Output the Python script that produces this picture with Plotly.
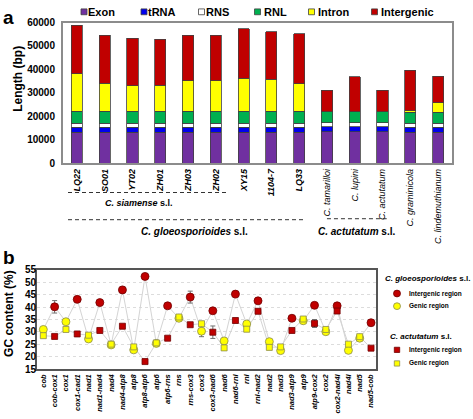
import plotly.graph_objects as go

W, H = 473, 419
FONT = "Liberation Sans, Arial, sans-serif"

# ---------------- Panel a data ----------------
strains = ["LQ22", "SO01", "YT02", "ZH01", "ZH03", "ZH02", "XY15", "1104-7", "LQ33",
           "C. tamarilloi", "C. lupini", "C. actutatum", "C. graminicola", "C. lindemuthianum"]
exon = [13300, 13300, 13300, 13300, 13300, 13300, 13300, 13300, 13300, 13400, 13400, 13400, 13300, 13300]
trna = [2100, 2100, 2100, 2100, 2100, 2100, 2100, 2100, 2100, 2100, 2100, 2100, 2100, 2100]
rns = [1700, 1700, 1700, 1700, 1700, 1700, 1700, 1700, 1700, 1700, 1700, 1700, 1700, 1700]
rnl = [5000, 5000, 5000, 5000, 5000, 5000, 5000, 5000, 5000, 4700, 4700, 4700, 4700, 4700]
intron = [16100, 12100, 10900, 11200, 13000, 13000, 14150, 13700, 11800, 0, 0, 0, 600, 4000]
intergenic = [20550, 20400, 20300, 19500, 19500, 19500, 21150, 20300, 21400, 9160, 14900, 9160, 17300, 11400]
bar_names = ["Exon", "tRNA", "RNS", "RNL", "Intron", "Intergenic"]
bar_colors = ["#7030A0", "#0000EE", "#FFFFFF", "#00B050", "#FFFF00", "#C00000"]
y_ticks_a = [0, 10000, 20000, 30000, 40000, 50000, 60000]

# ---------------- Panel b data ----------------
regions = ["cob", "cob-cox1", "cox1", "cox1-cad1", "nad1", "nad1-nad4", "nad4", "nad4-atp8",
           "atp8", "atp8-atp6", "atp6", "atp6-rns", "rns", "rns-cox3", "cox3", "cox3-nad6",
           "nad6", "nad6-rnl", "rnl", "rnl-nad2", "nad2", "nad3", "nad3-atp9", "atp9",
           "atp9-cox2", "cox2", "cox2-nad4l", "nad4l", "nad5", "nad5-cob"]
region_type = ["genic", "inter", "genic", "inter", "genic", "inter", "genic", "inter",
               "genic", "inter", "genic", "inter", "genic", "inter", "genic", "inter",
               "genic", "inter", "genic", "inter", "genic", "genic", "inter", "genic",
               "inter", "genic", "inter", "genic", "genic", "inter"]
gc_gloeo = [31.0, 40.1, 34.1, 43.1, 27.2, 41.8, 24.8, 46.9, 22.8, 52.3, 25.4, 40.5, 35.5, 44.0, 30.3,
            38.5, 26.4, 45.2, 33.2, 42.5, 26.1, 22.5, 35.5, 34.5, 40.7, 30.1, 40.5, 22.6, 27.5, 33.7]
gc_gloeo_err = [0, 2.5, 0, 0, 0, 0, 0, 1.2, 0, 0, 0, 0, 0, 2.4, 2.2,
                0, 0, 0, 0, 0, 0.6, 0, 0.8, 0, 0, 0, 0, 0, 0, 0]
gc_acut = [28.5, 28.2, 31.0, 29.2, 28.7, 30.6, 25.1, 32.3, 24.0, 18.1, 25.6, 27.5, 36.0, 32.9, 33.3,
           29.9, 23.6, 34.6, 31.1, 38.3, 23.8, 24.0, 30.6, 35.2, 33.4, 31.0, 38.4, 25.1, 28.1, 23.5]
gc_acut_err = [0, 0, 0, 0, 0, 0, 0, 0, 0, 0, 0, 0, 0, 0, 0,
               2.5, 0, 0, 0, 0, 0, 0, 0, 0, 1.6, 0, 0, 0, 0, 0]
y_ticks_b = [15, 20, 25, 30, 35, 40, 45, 50, 55]


def px(x):
    return x / W


def py(y):
    return 1 - y / H


fig = go.Figure()

# ---- panel a stacked bars
for name, vals, col in zip(bar_names, [exon, trna, rns, rnl, intron, intergenic], bar_colors):
    fig.add_trace(go.Bar(x=strains, y=vals, name=name, marker=dict(color=col, line=dict(color="#404040", width=0.8)),
                         xaxis="x", yaxis="y", showlegend=False))

# ---- panel b lines
for vals in [gc_gloeo, gc_acut]:
    fig.add_trace(go.Scatter(x=regions, y=vals, mode="lines", line=dict(color="#d4d4d4", width=1),
                             xaxis="x2", yaxis="y2", showlegend=False, hoverinfo="skip"))


def subset(vals, errs, kind):
    xs, ys, es = [], [], []
    for r, t, v, e in zip(regions, region_type, vals, errs):
        if t == kind:
            xs.append(r); ys.append(v); es.append(e)
    return xs, ys, es


series = [
    (gc_gloeo, gc_gloeo_err, "inter", "circle", 8, "#C00000", "#700000"),
    (gc_gloeo, gc_gloeo_err, "genic", "circle", 8, "#FFFF00", "#8a8a50"),
    (gc_acut, gc_acut_err, "inter", "square", 6, "#C00000", "#700000"),
    (gc_acut, gc_acut_err, "genic", "square", 6, "#FFFF00", "#8a8a50"),
]
for vals, errs, kind, sym, size, col, lc in series:
    xs, ys, es = subset(vals, errs, kind)
    fig.add_trace(go.Scatter(x=xs, y=ys, mode="markers",
                             marker=dict(symbol=sym, size=size, color=col, line=dict(color=lc, width=0.8)),
                             error_y=dict(type="data", array=es, visible=True, color="#707070", thickness=1, width=2.5),
                             xaxis="x2", yaxis="y2", showlegend=False))

ticktext_a = []
for s in strains:
    if s.startswith("C. "):
        ticktext_a.append("<span style='font-weight:normal'>%s</span>" % s)
    else:
        ticktext_a.append(s)

fig.update_layout(
    width=W, height=H, margin=dict(l=0, r=0, t=0, b=0),
    paper_bgcolor="white", plot_bgcolor="white",
    font=dict(family=FONT, color="black"),
    barmode="stack", bargap=0.6,
    xaxis=dict(domain=[px(63), px(452)], type="category", tickvals=strains, ticktext=ticktext_a,
               tickangle=-90, tickfont=dict(size=9, weight="bold", style="italic"), showline=True, mirror=True,
               linecolor="#8c8c8c", linewidth=2, ticks="", anchor="y", range=[-0.5, 13.5]),
    yaxis=dict(domain=[py(162), py(17)], range=[0, 60000], tickvals=y_ticks_a, tickformat="d",
               tickfont=dict(size=10, weight="bold"), showline=True, mirror=True, linecolor="#8c8c8c",
               linewidth=2, showgrid=False, zeroline=False, ticks="", anchor="x", ticklabelstandoff=4),
    xaxis2=dict(domain=[px(37), px(376)], type="category", tickangle=-90,
                tickfont=dict(size=7.5, weight="bold", style="italic"), showline=True, mirror=True,
                linecolor="#555555", linewidth=2, ticks="", anchor="y2", range=[-0.56, 29.44]),
    yaxis2=dict(domain=[py(374), py(271.5)], range=[15, 55], tickvals=y_ticks_b,
                tickfont=dict(size=10, weight="bold"), showline=True, mirror=True, linecolor="#555555",
                linewidth=2, showgrid=True, gridcolor="#dcdcdc", griddash="dot", gridwidth=1,
                zeroline=False, ticks="", anchor="x2", ticklabelstandoff=-3),
)

ann = []
shapes = []


def text(x, y, t, size, xanchor="left", angle=0, xref="paper"):
    ann.append(dict(x=x if xref != "paper" else px(x), y=py(y), xref=xref, yref="paper", text=t,
                    showarrow=False, xanchor=xanchor, yanchor="middle", textangle=angle, borderpad=0,
                    font=dict(size=size, family=FONT, color="black")))


# panel letters and axis titles
text(2, 12, "<b>a</b>", 19)
text(2, 259, "<b>b</b>", 19)
text(18, 75, "<b>Length (bp)</b>", 12, xanchor="center", angle=-90)
text(9, 317, "<b>GC content (%)</b>", 12, xanchor="center", angle=-90)

# panel a legend
leg_sq_x = [84, 144, 201.5, 257.5, 311.5, 374.5]
leg_tx_x = [87, 147, 205, 263, 317, 380]
for name, col, sx, tx in zip(bar_names, bar_colors, leg_sq_x, leg_tx_x):
    shapes.append(dict(type="rect", xref="paper", yref="paper", x0=px(sx - 3), x1=px(sx + 3),
                       y0=py(9), y1=py(3), fillcolor=col, line=dict(color="#404040", width=0.8)))
    text(tx, 6, "<b>%s</b>" % name, 11)

# group labels panel a
dash_style = dict(color="#333333", width=1, dash="4px,3px")
shapes.append(dict(type="line", xref="x", yref="paper", x0=-0.32, x1=5.4, y0=py(192), y1=py(192), line=dash_style))
shapes.append(dict(type="line", xref="x", yref="paper", x0=-0.32, x1=8.2, y0=py(220), y1=py(220), line=dash_style))
shapes.append(dict(type="line", xref="x", yref="paper", x0=9.0, x1=11.15, y0=py(219), y1=py(219), line=dash_style))
text(2.23, 203, "<b><i>C. siamense</i> s.l.</b>", 9, xanchor="center", xref="x")
text(4.24, 232, "<b><i>C. gloeosporioides</i> s.l.</b>", 10, xanchor="center", xref="x")
text(10.07, 232, "<b><i>C. actutatum</i> s.l.</b>", 10, xanchor="center", xref="x")

# panel b legend
text(384, 281, "<b><i>C. gloeosporioides</i> s.l.</b>", 8)
text(389, 340, "<b><i>C. actutatum</i> s.l.</b>", 8)
leg_b = [
    ("circle", 296, "#C00000", "#700000", "Intergenic region"),
    ("circle", 309, "#FFFF00", "#8a8a50", "Genic region"),
    ("rect", 354, "#C00000", "#700000", "Intergenic region"),
    ("rect", 368, "#FFFF00", "#8a8a50", "Genic region"),
]
for typ, yy, col, lc, lab in leg_b:
    r = 3.5 if typ == "circle" else 2.7
    shapes.append(dict(type=typ, xref="paper", yref="paper", x0=px(397 - r), x1=px(397 + r),
                       y0=py(yy + r), y1=py(yy - r), fillcolor=col, line=dict(color=lc, width=0.8)))
    text(408, yy, "<b>%s</b>" % lab, 6.5)

fig.update_layout(annotations=ann, shapes=shapes)
fig.write_html("out.html", config={"displayModeBar": False},
               post_script="document.body.style.margin='0';document.body.style.overflow='hidden';")
